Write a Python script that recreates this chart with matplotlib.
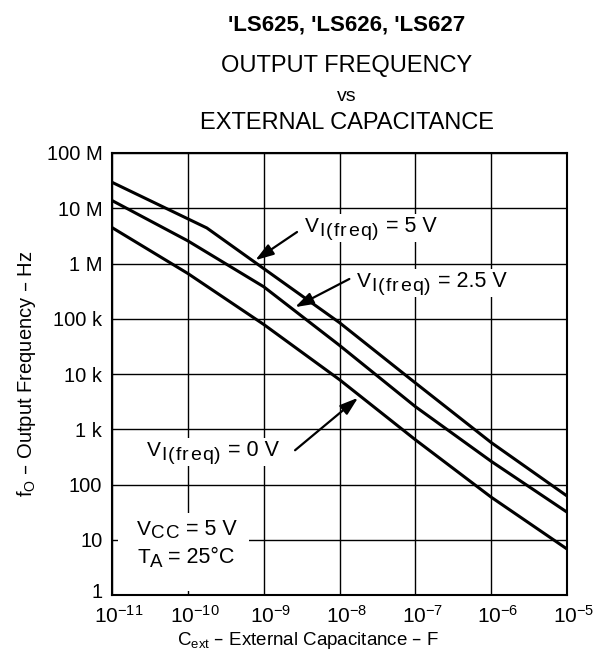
import matplotlib
matplotlib.use('Agg')
import matplotlib.pyplot as plt
from matplotlib.patches import Rectangle
from matplotlib.transforms import IdentityTransform, Bbox, ScaledTranslation

plt.rcParams['font.family'] = ['Liberation Sans', 'DejaVu Sans']

# capacitance (F) where the curves were read
cext = [1e-11, 1e-10, 1e-9, 1e-8, 1e-7, 1e-6, 1e-5]
cext_5v = [1e-11, 1.78e-10, 1e-9, 1e-8, 1e-7, 1e-6, 1e-5]

# output frequency (Hz)
f_5v = [2.95e7, 4.4e6, 8.1e5, 8.5e4, 6.9e3, 575, 62]
f_2v5 = [1.38e7, 2.57e6, 3.8e5, 3.3e4, 2570, 263, 31.6]
f_0v = [4.47e6, 6.6e5, 7.9e4, 7.9e3, 646, 59, 6.8]

x_ticks = [1e-11, 1e-10, 1e-9, 1e-8, 1e-7, 1e-6, 1e-5]
x_labels = [r'$\mathregular{10^{-11}}$', r'$\mathregular{10^{-10}}$',
            r'$\mathregular{10^{-9}}$', r'$\mathregular{10^{-8}}$',
            r'$\mathregular{10^{-7}}$', r'$\mathregular{10^{-6}}$',
            r'$\mathregular{10^{-5}}$']
y_ticks = [1, 10, 100, 1e3, 1e4, 1e5, 1e6, 1e7, 1e8]
y_labels = ['1', '10', '100', '1 k', '10 k', '100 k', '1 M', '10 M', '100 M']

W, H = 609, 661
fig = plt.figure(figsize=(W / 100, H / 100), dpi=100)
ax = fig.add_axes([112 / W, 1 - 595 / H, 455 / W, 442 / H])

ax.plot(cext_5v, f_5v, color='black', lw=2.2, solid_capstyle='butt')
ax.plot(cext, f_2v5, color='black', lw=2.2, solid_capstyle='butt')
ax.plot(cext, f_0v, color='black', lw=2.2, solid_capstyle='butt')

ax.set_xscale('log')
ax.set_yscale('log')
ax.set_xlim(1e-11, 1e-5)
ax.set_ylim(1, 1e8)
ax.set_xticks(x_ticks)
ax.set_xticklabels(x_labels, fontsize=15)
ax.set_yticks(y_ticks)
ax.set_yticklabels(y_labels, fontsize=14.5)
ax.minorticks_off()
ax.tick_params(axis='both', length=0)
ax.tick_params(axis='x', pad=7)
ax.tick_params(axis='y', pad=7)
ax.grid(True, color='black', lw=1.0)
for s in ax.spines.values():
    s.set_linewidth(1.5)

# the "10" of each x label sits a little left of its grid line
shift = ScaledTranslation(7 / 100, 0, fig.dpi_scale_trans)
for lab in ax.get_xticklabels():
    lab.set_transform(lab.get_transform() + shift)
# lift the bottom "1" clear of the x labels
lab1 = ax.get_yticklabels()[0]
lab1.set_transform(lab1.get_transform()
                   + ScaledTranslation(0, 4 / 100, fig.dpi_scale_trans))

ax.set_ylabel(r'$\mathregular{f_O}$ – Output Frequency – Hz', fontsize=14.5,
              labelpad=6)

# arrows to the curves
arrow = dict(arrowstyle='-|>,head_length=0.55,head_width=0.18',
             color='black', lw=1.6, mutation_scale=20, shrinkA=0, shrinkB=0)
ax.annotate('', xy=(10**-9.11, 10**6.06), xytext=(10**-8.56, 10**6.57),
            arrowprops=arrow)
ax.annotate('', xy=(10**-8.586, 10**5.21), xytext=(10**-7.87, 10**5.72),
            arrowprops=arrow)
ax.annotate('', xy=(10**-7.755, 10**3.57), xytext=(10**-8.586, 10**2.62),
            arrowprops=arrow)

renderer = fig.canvas.get_renderer()


def chain(x, y, parts):
    """put text pieces one after another, x/y in image pixels (baseline).
    each part: (text, size, drop, tracking in px between letters)"""
    boxes = []
    for txt, size, drop, track in parts:
        chunks = list(txt) if track else [txt]
        for c in chunks:
            t = fig.text(x, H - y - drop, c, fontsize=size, ha='left',
                         va='baseline', transform=IdentityTransform(),
                         zorder=6)
            bb = t.get_window_extent(renderer)
            boxes.append(bb)
            x = bb.x1 + track
    return Bbox.union(boxes)


def white(bb, l=3, r=3, t=2, b=2):
    fig.add_artist(Rectangle((bb.x0 - l, bb.y0 - b), bb.width + l + r,
                             bb.height + t + b, transform=IdentityTransform(),
                             facecolor='white', edgecolor='none', zorder=5))


white(chain(305, 232, [('V', 15, 0, 0), ('I(freq)', 14, 4, 1.2),
                       (' = 5 V', 15.5, 0, 0)]))
white(chain(357, 287, [('V', 15, 0, 0), ('I(freq)', 14, 4, 1.2),
                       (' = 2.5 V', 15.5, 0, 0)]))
white(chain(147, 456, [('V', 15, 0, 0), ('I(freq)', 14, 4, 1.2),
                       (' = 0 V', 15.5, 0, 0)]))

b1 = chain(137, 535, [('V', 15, 0, 0), ('CC', 13.5, 3, 1.2),
                      (' = 5 V', 15.5, 0, 0)])
b2 = chain(137, 563, [('T', 15, 0, 0), ('A', 13.5, 4, 0),
                      (' = 25°C', 15.5, 0, 0)])
white(Bbox.union([b1, b2]), l=19, r=12, t=6, b=20)

# x label
fig.text(308 / W, 1 - 645 / H,
         r'$\mathregular{C_{ext}}$ – External Capacitance – F',
         fontsize=13.5, ha='center', va='baseline')

# title block
fig.text(347 / W, 1 - 31 / H, "'LS625, 'LS626, 'LS627", fontsize=16,
         fontweight='bold', ha='center', va='baseline')
fig.text(347 / W, 1 - 72 / H, 'OUTPUT FREQUENCY', fontsize=17,
         ha='center', va='baseline')
fig.text(347 / W, 1 - 101 / H, 'vs', fontsize=14, ha='center', va='baseline')
fig.text(347 / W, 1 - 129 / H, 'EXTERNAL CAPACITANCE', fontsize=17,
         ha='center', va='baseline')

fig.savefig('out.png', dpi=100)
